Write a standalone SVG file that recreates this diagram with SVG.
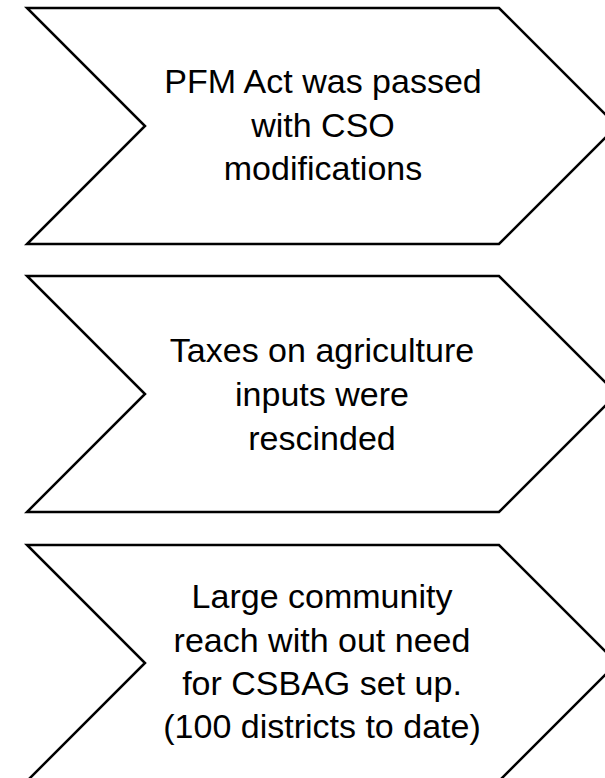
<svg xmlns="http://www.w3.org/2000/svg" width="605" height="778" viewBox="0 0 605 778">
<style>
.chev{fill:#ffffff;stroke:#000000;stroke-width:2.5;stroke-linejoin:miter}
.lbl{font-family:"Liberation Sans",Arial,sans-serif;font-size:34px;fill:#000000;text-anchor:middle}
</style>
<rect width="605" height="778" fill="#ffffff"/>
<g id="node1">
<polygon class="chev" points="27,8 499,8 617,126 499,244 27,244 145,126"/>
<text class="lbl" x="323" y="93">PFM Act was passed</text>
<text class="lbl" x="323" y="137">with CSO</text>
<text class="lbl" x="323" y="180">modifications</text>
</g>
<g id="node2">
<polygon class="chev" points="27,276 499,276 617,394 499,512 27,512 145,394"/>
<text class="lbl" x="322" y="362">Taxes on agriculture</text>
<text class="lbl" x="322" y="406">inputs were</text>
<text class="lbl" x="322" y="450">rescinded</text>
</g>
<g id="node3">
<polygon class="chev" points="27,545 499,545 617,663 499,781 27,781 145,663"/>
<text class="lbl" x="322" y="608">Large community</text>
<text class="lbl" x="322" y="652">reach with out need</text>
<text class="lbl" x="322" y="695">for CSBAG set up.</text>
<text class="lbl" x="322" y="738">(100 districts to date)</text>
</g>
<g id="connectors"></g>
</svg>
